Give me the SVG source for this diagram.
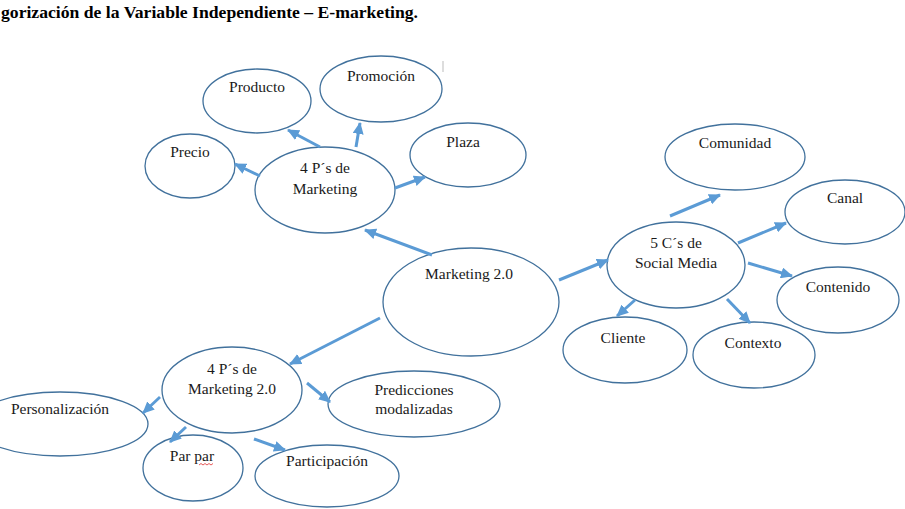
<svg xmlns="http://www.w3.org/2000/svg" width="905" height="509" viewBox="0 0 905 509">
<style>
.n ellipse{fill:#fff;stroke:#41719C;stroke-width:1.3}
.n text{font-family:"Liberation Serif","Times New Roman",serif;font-size:15.5px;fill:#1a1a1a;text-anchor:middle}
.c line{stroke:#5B9BD5;stroke-width:3;marker-end:url(#ah)}
.title{font-family:"Liberation Serif","Times New Roman",serif;font-size:16px;font-weight:bold;fill:#000}
</style>
<defs>
<marker id="ah" markerUnits="userSpaceOnUse" markerWidth="12" markerHeight="11" refX="11" refY="5.5" orient="auto">
<path d="M0,0 L12,5.5 L0,11 z" fill="#5B9BD5"/>
</marker>
</defs>
<rect width="905" height="509" fill="#fff"/>
<text class="title" x="1" y="18" textLength="417" lengthAdjust="spacingAndGlyphs">gorización de la Variable Independiente – E-marketing.</text>
<line x1="443" y1="61" x2="443" y2="72" stroke="#bbb" stroke-width="1"/>

<g id="producto" class="n"><ellipse cx="257" cy="101" rx="54" ry="32"/><text x="257" y="92">Producto</text></g>
<g id="promocion" class="n"><ellipse cx="381" cy="89" rx="61" ry="33"/><text x="381" y="81">Promoción</text></g>
<g id="precio" class="n"><ellipse cx="190" cy="166" rx="45" ry="32"/><text x="190" y="157">Precio</text></g>
<g id="plaza" class="n"><ellipse cx="468" cy="155" rx="58" ry="32"/><text x="463" y="147">Plaza</text></g>
<g id="cuatroP" class="n"><ellipse cx="325" cy="190" rx="70" ry="43"/><text x="325" y="173">4 P´s de</text><text x="325" y="194">Marketing</text></g>

<g id="marketing20" class="n"><ellipse cx="471" cy="302" rx="88" ry="54"/><text x="469" y="279">Marketing 2.0</text></g>

<g id="comunidad" class="n"><ellipse cx="735" cy="157" rx="70" ry="33"/><text x="735" y="148">Comunidad</text></g>
<g id="canal" class="n"><ellipse cx="845" cy="212" rx="60" ry="32"/><text x="845" y="203">Canal</text></g>
<g id="cincoC" class="n"><ellipse cx="676" cy="265" rx="69" ry="43"/><text x="676" y="248">5 C´s de</text><text x="676" y="268">Social Media</text></g>
<g id="contenido" class="n"><ellipse cx="838" cy="300" rx="61" ry="33"/><text x="838" y="292">Contenido</text></g>
<g id="cliente" class="n"><ellipse cx="625" cy="350" rx="62" ry="33"/><text x="623" y="343">Cliente</text></g>
<g id="contexto" class="n"><ellipse cx="754" cy="355" rx="61" ry="33"/><text x="753" y="348">Contexto</text></g>

<g id="cuatroP20" class="n"><ellipse cx="232" cy="390" rx="70" ry="43"/><text x="232" y="374">4 P´s de</text><text x="232" y="394">Marketing 2.0</text></g>
<g id="personalizacion" class="n"><ellipse cx="60" cy="424" rx="88" ry="32"/><text x="60" y="414">Personalización</text></g>
<g id="predicciones" class="n"><ellipse cx="414" cy="404" rx="86" ry="33"/><text x="414" y="395">Predicciones</text><text x="414" y="414">modalizadas</text></g>
<g id="parpar" class="n"><ellipse cx="193" cy="468" rx="50" ry="33"/><text x="192" y="461">Par par</text><path d="M199,465 l2,-1.5 l2,1.5 l2,-1.5 l2,1.5 l2,-1.5 l2,1.5 l2,-1.5" fill="none" stroke="#e03030" stroke-width="0.8"/></g>
<g id="participacion" class="n"><ellipse cx="327" cy="476" rx="72" ry="31"/><text x="327" y="466">Participación</text></g>

<g id="connectors" class="c">
<line x1="260" y1="176" x2="235" y2="164"/>
<line x1="320" y1="147" x2="288" y2="130"/>
<line x1="356" y1="147" x2="360" y2="123"/>
<line x1="395" y1="188" x2="425" y2="177"/>
<line x1="432" y1="255" x2="365" y2="230"/>
<line x1="559" y1="280" x2="608" y2="260"/>
<line x1="380" y1="318" x2="290" y2="364"/>
<line x1="670" y1="216" x2="720" y2="195"/>
<line x1="738" y1="243" x2="786" y2="223"/>
<line x1="748" y1="263" x2="792" y2="276"/>
<line x1="635" y1="300" x2="617" y2="316"/>
<line x1="727" y1="299" x2="750" y2="323"/>
<line x1="160" y1="397" x2="143" y2="413"/>
<line x1="307" y1="383" x2="330" y2="402"/>
<line x1="186" y1="427" x2="170" y2="442"/>
<line x1="254" y1="439" x2="285" y2="450"/>
</g>
</svg>
